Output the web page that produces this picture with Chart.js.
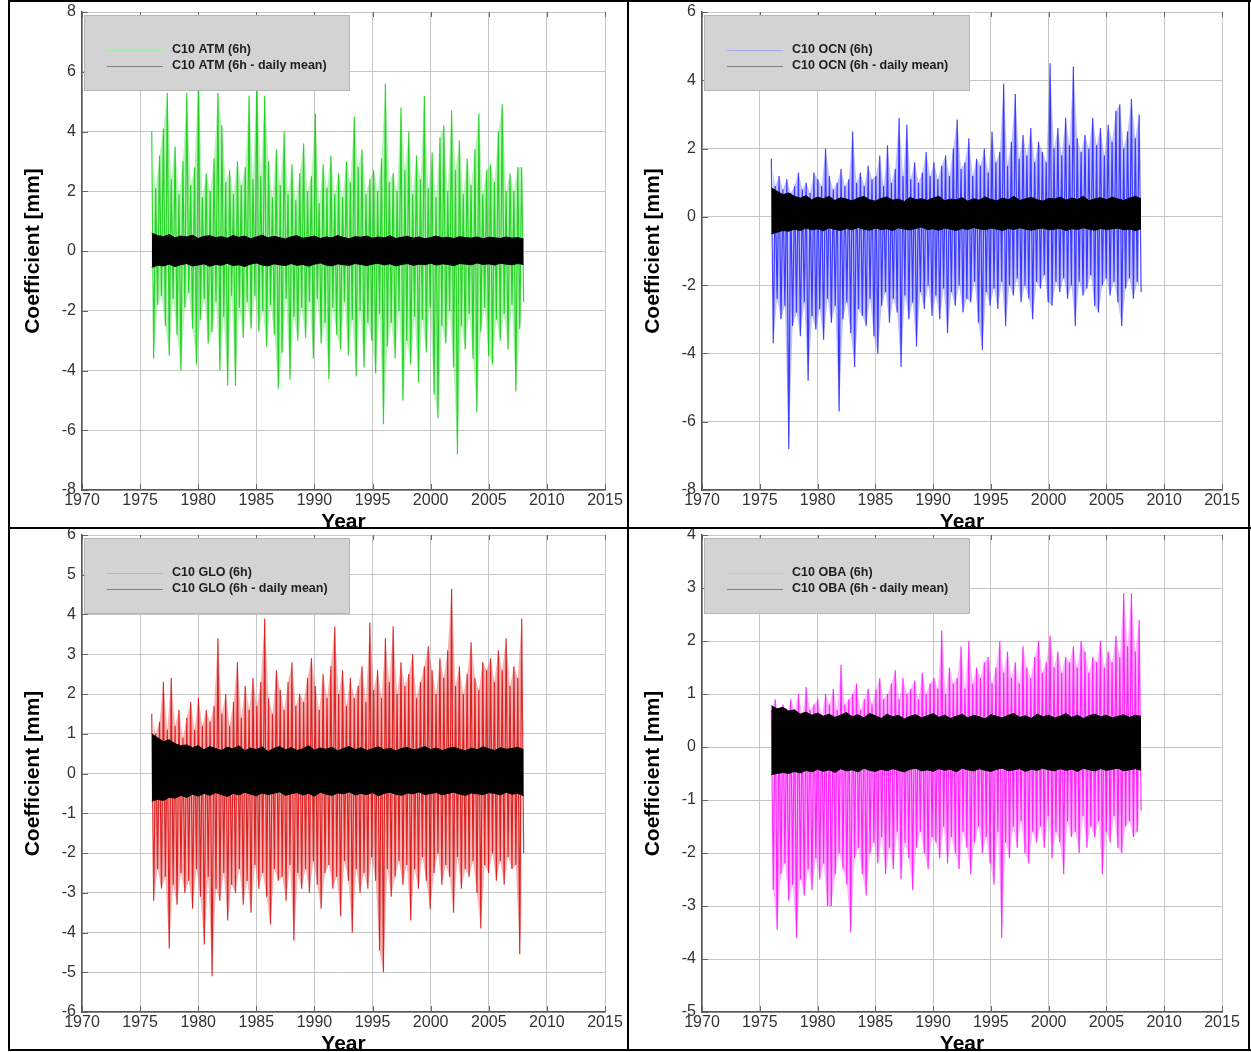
<!DOCTYPE html>
<html>
<head>
<meta charset="utf-8">
<script src="https://cdn.jsdelivr.net/npm/chart.js@4.4.0/dist/chart.umd.min.js"></script>
<style>
body { margin: 0; background: #fff; width: 1251px; height: 1052px; position: relative; overflow: hidden; }
.cell { position: absolute; overflow: hidden; }
.ln { position: absolute; background: #000; z-index: 5; }
</style>
</head>
<body>
<div class="cell" style="left:10px;top:2px;width:617px;height:525px"><canvas id="atm"></canvas></div>
<div class="cell" style="left:629px;top:2px;width:619px;height:525px"><canvas id="ocn"></canvas></div>
<div class="cell" style="left:10px;top:520px;width:617px;height:529px"><canvas id="glo"></canvas></div>
<div class="cell" style="left:629px;top:520px;width:619px;height:529px"><canvas id="oba"></canvas></div>

<div class="ln" style="left:8px;top:0;width:1243px;height:2px"></div>
<div class="ln" style="left:8px;top:527px;width:1243px;height:2px"></div>
<div class="ln" style="left:8px;top:1049px;width:1243px;height:2px"></div>
<div class="ln" style="left:8px;top:0;width:2px;height:1051px"></div>
<div class="ln" style="left:627px;top:0;width:2px;height:1051px"></div>
<div class="ln" style="left:1248px;top:0;width:2px;height:1051px"></div>

<script>
// time span of the series (years)
const START = 1976;
const END = 2008;
const X_TICKS = [1970, 1975, 1980, 1985, 1990, 1995, 2000, 2005, 2010, 2015];

// 6h series: local maxima / minima, one pair every third of a year
const ATM_HI = [4.0,2.1,3.2, 4.1,5.3,2.4, 3.5,1.9,3.0, 5.3,2.2,2.8, 6.0,1.8,2.6, 2.0,3.1,5.3, 4.2,2.3,2.7, 1.9,3.0,2.2,
  2.8,5.2,2.4, 6.0,2.5,5.2, 3.0,1.8,3.4, 2.2,4.0,1.9, 2.9,1.7,2.6, 3.6,2.0,2.5, 4.6,1.6,2.9, 2.1,3.2,1.9,
  2.6,1.8,3.0, 2.3,4.5,2.8, 3.4,1.9,2.4, 2.7,2.0,3.1, 5.6,2.3,2.6, 2.0,4.8,2.7, 4.0,1.9,3.2, 2.4,5.2,2.1,
  3.3,1.8,3.8, 4.2,2.0,4.7, 2.7,3.7,1.9, 3.1,2.2,3.4, 4.6,1.9,2.7, 2.9,2.3,4.0, 4.9,2.0,2.6, 2.0,2.8,2.8];
const ATM_LO = [-3.6,-1.8,-1.5, -2.5,-3.5,-1.6, -2.8,-4.0,-1.9, -1.4,-2.6,-3.8, -2.3,-1.6,-3.1, -2.7,-1.7,-4.0, -2.2,-4.5,-1.5, -4.5,-1.9,-2.9,
  -1.7,-2.6,-1.5, -2.7,-2.0,-3.2, -1.8,-2.8,-4.6, -3.4,-1.6,-4.3, -2.2,-3.0,-1.9, -2.9,-1.7,-3.6, -1.6,-3.1,-2.4, -4.3,-1.9,-2.8,
  -3.3,-1.7,-3.5, -2.3,-4.2,-2.0, -3.9,-2.4,-3.0, -4.1,-2.1,-5.8, -3.2,-2.4,-3.6, -2.0,-5.0,-3.0, -3.8,-2.2,-4.4, -2.3,-3.4,-1.9,
  -4.8,-5.6,-2.5, -3.1,-2.0,-3.9, -6.8,-2.5,-3.3, -2.1,-3.6,-5.4, -2.7,-1.9,-3.5, -3.8,-2.3,-3.0, -2.1,-3.3,-1.8, -4.7,-2.6,-1.7];

const OCN_HI = [1.7,0.9,1.2, 0.8,1.1,0.7, 0.9,1.3,0.8, 1.0,0.7,1.3, 1.1,0.9,2.0, 1.2,0.8,1.0, 1.4,0.9,1.1, 2.5,1.0,1.3,
  0.9,1.5,1.1, 1.2,1.8,0.9, 2.1,1.0,1.4, 2.9,1.2,2.7, 1.1,1.6,1.0, 1.3,1.9,1.2, 1.6,1.1,1.5, 1.8,1.2,2.0,
  2.85,1.4,1.6, 2.3,1.2,1.7, 1.5,2.0,1.3, 2.5,1.6,1.9, 3.9,1.5,2.2, 3.6,1.7,2.4, 1.8,2.6,1.6, 2.2,1.9,1.6,
  4.5,2.0,2.6, 1.8,2.9,2.1, 4.4,2.3,1.9, 2.4,2.0,2.9, 2.1,2.6,1.8, 2.7,2.2,3.1, 3.3,2.0,2.5, 3.45,2.3,3.0];
const OCN_LO = [-3.7,-2.4,-3.0, -2.6,-6.8,-3.2, -2.8,-3.5,-2.5, -4.8,-2.9,-3.3, -2.7,-3.6,-2.4, -3.1,-2.6,-5.7, -3.0,-2.5,-3.4, -4.4,-2.7,-2.9,
  -3.2,-2.4,-3.5, -4.0,-2.6,-2.2, -3.1,-2.4,-2.8, -4.4,-2.3,-3.0, -2.5,-3.8,-2.2, -2.7,-2.0,-2.9, -2.3,-3.0,-2.1, -3.4,-2.2,-2.6,
  -2.0,-2.8,-2.4, -2.5,-1.9,-3.1, -3.9,-2.2,-2.6, -2.1,-2.7,-1.9, -3.2,-2.0,-2.3, -1.8,-2.5,-2.0, -2.4,-3.0,-1.9, -2.1,-1.7,-2.5,
  -2.6,-1.9,-2.2, -1.8,-2.4,-2.0, -3.2,-1.9,-2.3, -2.1,-1.7,-2.6, -2.8,-2.0,-1.8, -2.3,-1.9,-2.5, -3.2,-2.1,-1.8, -2.4,-1.9,-2.2];

const GLO_HI = [1.5,1.0,1.3, 2.3,1.1,2.4, 1.2,1.6,0.9, 1.4,1.8,1.1, 1.9,1.2,1.6, 1.3,1.7,3.4, 1.5,2.0,1.2, 1.8,2.8,1.4,
  2.2,1.6,2.4, 1.7,2.3,3.9, 1.9,1.5,2.6, 2.1,1.6,2.3, 2.8,1.7,2.0, 1.8,2.4,2.9, 2.2,1.6,2.5, 1.9,2.7,3.7,
  2.0,2.6,1.7, 2.4,1.9,2.2, 2.7,1.8,3.8, 2.1,2.6,1.9, 3.4,2.3,3.7, 2.0,2.8,2.2, 2.5,3.0,1.9, 2.3,2.7,3.2,
  2.6,2.0,2.9, 2.4,3.1,4.65, 2.2,2.7,2.0, 2.5,3.3,2.4, 2.1,2.8,2.6, 2.9,2.3,3.1, 2.6,3.4,2.2, 2.7,2.4,3.9];
const GLO_LO = [-3.2,-2.4,-2.9, -2.6,-4.4,-2.8, -3.3,-2.5,-3.0, -2.7,-3.4,-2.4, -3.1,-4.3,-2.6, -5.1,-2.9,-3.2, -2.5,-3.7,-2.8, -3.0,-2.4,-3.3,
  -2.7,-3.5,-2.3, -2.9,-2.5,-3.1, -3.8,-2.4,-2.7, -2.6,-3.2,-2.3, -4.2,-2.5,-2.9, -2.4,-3.0,-2.2, -2.8,-3.4,-2.5, -2.3,-2.9,-2.6,
  -3.6,-2.2,-2.7, -4.0,-2.4,-3.0, -2.5,-2.9,-2.1, -2.7,-4.45,-5.0, -2.4,-3.1,-2.6, -2.2,-2.8,-2.3, -3.7,-2.4,-2.9, -2.1,-2.7,-3.4,
  -2.5,-2.0,-2.8, -2.3,-2.6,-3.5, -2.1,-2.9,-2.4, -2.6,-2.2,-3.0, -3.9,-2.3,-2.5, -2.0,-2.7,-2.2, -2.8,-2.1,-2.4, -2.3,-4.55,-2.0];

const OBA_HI = [0.7,0.9,0.6, 0.8,0.6,0.9, 0.7,1.0,0.6, 1.13,0.7,0.8, 0.9,0.6,1.0, 0.8,1.1,0.7, 1.55,0.8,0.9, 1.0,1.2,0.7,
  0.9,1.1,0.8, 1.08,1.3,0.9, 1.0,1.2,1.45, 0.9,1.3,1.0, 1.1,1.25,0.9, 1.4,1.0,1.2, 1.3,1.1,2.2, 1.0,1.5,1.2,
  1.3,1.9,1.1, 2.0,1.2,1.5, 1.3,1.6,1.7, 1.2,1.5,2.0, 1.4,1.8,1.3, 1.6,1.2,1.9, 1.5,1.3,1.7, 2.0,1.4,1.6,
  2.1,1.5,1.8, 1.4,1.7,1.6, 1.9,1.5,2.0, 1.8,1.4,1.7, 1.6,2.0,1.5, 1.8,1.6,2.1, 1.7,2.9,1.9, 2.9,1.8,2.4];
const OBA_LO = [-2.7,-3.45,-2.4, -2.2,-2.9,-2.6, -3.6,-2.5,-2.8, -2.3,-2.7,-2.1, -2.5,-2.2,-3.0, -3.0,-2.4,-2.0, -2.3,-2.6,-3.5, -2.1,-1.9,-2.4,
  -2.8,-2.0,-1.8, -2.2,-1.7,-2.4, -1.9,-2.3,-1.6, -2.5,-1.8,-2.1, -2.7,-1.9,-1.6, -2.0,-2.3,-1.7, -1.8,-2.1,-1.5, -2.2,-1.7,-2.0,
  -2.3,-1.6,-1.9, -2.4,-1.8,-1.5, -2.0,-1.7,-2.2, -2.6,-1.6,-3.6, -1.8,-2.1,-1.5, -1.9,-1.4,-2.0, -2.2,-1.6,-1.8, -1.5,-1.9,-1.3,
  -2.1,-1.6,-1.8, -2.4,-1.4,-1.7, -1.6,-2.0,-1.3, -1.9,-1.5,-1.7, -1.4,-2.4,-1.6, -1.8,-1.3,-1.9, -2.0,-1.5,-1.4, -1.7,-1.6,-1.2];

// daily mean series: upper / lower edge, one value every half year
const ATM_MEAN_HI = [0.6,0.52,0.48,0.55,0.44,0.5,0.47,0.53,0.42,0.49,0.51,0.45,0.48,0.43,0.52,0.46,0.5,0.41,0.47,0.53,
  0.44,0.49,0.45,0.4,0.48,0.51,0.43,0.46,0.5,0.42,0.47,0.44,0.52,0.45,0.41,0.48,0.46,0.5,0.43,0.47,
  0.44,0.51,0.42,0.46,0.49,0.43,0.47,0.41,0.45,0.5,0.44,0.46,0.42,0.48,0.45,0.43,0.47,0.41,0.46,0.44,0.42,0.47,0.43,0.45,0.4];
const ATM_MEAN_LO = [-0.55,-0.48,-0.5,-0.44,-0.52,-0.46,-0.42,-0.5,-0.47,-0.43,-0.51,-0.45,-0.48,-0.41,-0.49,-0.46,-0.52,-0.44,-0.4,-0.47,
  -0.5,-0.43,-0.46,-0.49,-0.42,-0.48,-0.45,-0.51,-0.44,-0.4,-0.47,-0.5,-0.43,-0.46,-0.48,-0.42,-0.45,-0.49,-0.44,-0.41,
  -0.47,-0.43,-0.5,-0.45,-0.42,-0.48,-0.44,-0.46,-0.41,-0.47,-0.43,-0.45,-0.49,-0.42,-0.44,-0.46,-0.4,-0.45,-0.43,-0.47,-0.41,-0.44,-0.46,-0.42,-0.45];

const OCN_MEAN_HI = [0.85,0.75,0.65,0.7,0.6,0.55,0.62,0.5,0.58,0.53,0.6,0.48,0.56,0.52,0.47,0.55,0.6,0.5,0.46,0.54,
  0.58,0.49,0.52,0.45,0.57,0.5,0.53,0.48,0.55,0.6,0.47,0.52,0.5,0.56,0.46,0.53,0.49,0.58,0.51,0.47,
  0.55,0.5,0.6,0.48,0.53,0.57,0.5,0.46,0.54,0.52,0.58,0.49,0.55,0.51,0.6,0.47,0.53,0.56,0.5,0.58,0.52,0.48,0.55,0.6,0.53];
const OCN_MEAN_LO = [-0.5,-0.45,-0.4,-0.42,-0.36,-0.4,-0.33,-0.38,-0.35,-0.41,-0.32,-0.37,-0.4,-0.34,-0.38,-0.31,-0.36,-0.39,-0.33,-0.37,
  -0.35,-0.4,-0.32,-0.36,-0.38,-0.34,-0.3,-0.37,-0.35,-0.39,-0.33,-0.36,-0.4,-0.34,-0.37,-0.31,-0.35,-0.38,-0.33,-0.36,
  -0.4,-0.34,-0.37,-0.32,-0.36,-0.39,-0.35,-0.33,-0.38,-0.36,-0.34,-0.4,-0.35,-0.37,-0.32,-0.36,-0.39,-0.34,-0.37,-0.35,-0.33,-0.38,-0.36,-0.4,-0.35];

const GLO_MEAN_HI = [1.0,0.9,0.8,0.85,0.75,0.7,0.72,0.65,0.7,0.6,0.68,0.63,0.58,0.66,0.62,0.7,0.57,0.64,0.6,0.67,
  0.55,0.63,0.68,0.6,0.65,0.58,0.62,0.7,0.59,0.64,0.61,0.66,0.57,0.63,0.68,0.6,0.65,0.58,0.62,0.67,
  0.6,0.64,0.57,0.63,0.66,0.59,0.62,0.68,0.6,0.64,0.58,0.63,0.66,0.61,0.57,0.64,0.6,0.67,0.62,0.58,0.65,0.61,0.63,0.66,0.6];
const GLO_MEAN_LO = [-0.7,-0.65,-0.68,-0.6,-0.62,-0.55,-0.6,-0.52,-0.57,-0.5,-0.55,-0.48,-0.53,-0.58,-0.5,-0.54,-0.47,-0.52,-0.56,-0.49,
  -0.53,-0.5,-0.46,-0.55,-0.51,-0.48,-0.54,-0.5,-0.57,-0.47,-0.52,-0.55,-0.49,-0.51,-0.46,-0.54,-0.5,-0.53,-0.48,-0.56,
  -0.5,-0.47,-0.52,-0.55,-0.49,-0.51,-0.46,-0.53,-0.5,-0.48,-0.54,-0.5,-0.47,-0.52,-0.55,-0.49,-0.51,-0.53,-0.48,-0.5,-0.54,-0.47,-0.52,-0.5,-0.56];

const OBA_MEAN_HI = [0.78,0.72,0.75,0.68,0.7,0.62,0.66,0.6,0.64,0.58,0.62,0.56,0.6,0.65,0.57,0.61,0.55,0.63,0.59,0.54,
  0.62,0.57,0.6,0.53,0.58,0.61,0.55,0.59,0.63,0.56,0.6,0.54,0.58,0.62,0.55,0.6,0.57,0.53,0.61,0.58,
  0.55,0.6,0.63,0.56,0.59,0.54,0.62,0.57,0.6,0.55,0.58,0.63,0.56,0.6,0.54,0.59,0.62,0.57,0.6,0.55,0.58,0.61,0.56,0.6,0.58];
const OBA_MEAN_LO = [-0.52,-0.5,-0.48,-0.5,-0.46,-0.49,-0.44,-0.47,-0.42,-0.46,-0.43,-0.48,-0.41,-0.45,-0.43,-0.47,-0.4,-0.44,-0.46,-0.42,
  -0.45,-0.41,-0.44,-0.47,-0.42,-0.4,-0.45,-0.43,-0.46,-0.41,-0.44,-0.42,-0.47,-0.4,-0.43,-0.45,-0.41,-0.44,-0.46,-0.42,
  -0.4,-0.45,-0.43,-0.41,-0.46,-0.42,-0.44,-0.4,-0.43,-0.45,-0.41,-0.44,-0.42,-0.46,-0.4,-0.43,-0.45,-0.41,-0.44,-0.42,-0.4,-0.45,-0.43,-0.41,-0.44];

const FONT = '"Liberation Sans", Arial, Helvetica, sans-serif';

// x position of the k-th of n points spread evenly over START..END
const at = (k, n) => START + (END - START) * k / (n - 1);

// alternate max / min into one line
function zigzag(hi, lo) {
  const n = hi.length * 2;
  const pts = [];
  hi.forEach((v, i) => {
    pts.push({ x: at(2 * i, n), y: v });
    pts.push({ x: at(2 * i + 1, n), y: lo[i] });
  });
  return pts;
}

// just the maxima (or minima), at the same x positions as in the zigzag
function envelope(vals, shift) {
  const n = vals.length * 2;
  return vals.map((v, i) => ({ x: at(2 * i + shift, n), y: v }));
}

function edge(vals) {
  return vals.map((v, i) => ({ x: at(i, vals.length), y: v }));
}

// legend box, inner ticks and axis titles
const decor = {
  id: 'decor',
  afterDraw(chart) {
    const { ctx, chartArea: a } = chart;
    const xs = chart.scales.x, ys = chart.scales.y;
    ctx.save();
    ctx.strokeStyle = '#666';
    ctx.lineWidth = 1;
    ctx.beginPath();
    X_TICKS.forEach(t => {
      const px = Math.round(xs.getPixelForValue(t)) + 0.5;
      ctx.moveTo(px, a.bottom); ctx.lineTo(px, a.bottom - 6);
      ctx.moveTo(px, a.top); ctx.lineTo(px, a.top + 5);
    });
    ys.ticks.forEach(t => {
      const py = Math.round(ys.getPixelForValue(t.value)) + 0.5;
      ctx.moveTo(a.left, py); ctx.lineTo(a.left + 6, py);
    });
    ctx.stroke();

    // legend
    const bx = a.left + 2, by = a.top + 3;
    ctx.fillStyle = '#d3d3d3';
    ctx.fillRect(bx, by, 266, 76);
    ctx.strokeStyle = '#b5b5b5';
    ctx.strokeRect(bx + 0.5, by + 0.5, 265, 75);
    ctx.font = 'bold 12.5px ' + FONT;
    ctx.textBaseline = 'middle';
    chart.data.datasets.forEach(ds => {
      if (!ds.legendRow) return;
      const ly = a.top + 38 + (ds.legendRow - 1) * 16;
      ctx.strokeStyle = ds.legendColor;
      ctx.beginPath();
      ctx.moveTo(a.left + 25, ly + 0.5);
      ctx.lineTo(a.left + 81, ly + 0.5);
      ctx.stroke();
      ctx.fillStyle = '#1e1e1e';
      ctx.fillText(ds.label, a.left + 90, ly);
    });

    // axis titles
    ctx.fillStyle = '#000';
    ctx.font = 'bold 21px ' + FONT;
    ctx.textAlign = 'center';
    ctx.fillText('Year', (a.left + a.right) / 2, a.bottom + 32);
    ctx.translate(a.left - 49, (a.top + a.bottom) / 2);
    ctx.rotate(-Math.PI / 2);
    ctx.fillText('Coefficient [mm]', 0, 0);
    ctx.restore();
  }
};

const PANELS = [
  { id: 'atm', name: 'ATM', hi: ATM_HI, lo: ATM_LO, mHi: ATM_MEAN_HI, mLo: ATM_MEAN_LO,
    color: 'rgba(0,205,0,0.8)', haze: 'rgba(70,220,70,0.38)', legendColor: '#a6e8a6', yMin: -8, yMax: 8, yStep: 2, top: 10, right: 22, yW: 72 },
  { id: 'ocn', name: 'OCN', hi: OCN_HI, lo: OCN_LO, mHi: OCN_MEAN_HI, mLo: OCN_MEAN_LO,
    color: 'rgba(25,25,255,0.8)', haze: 'rgba(80,80,255,0.36)', legendColor: '#a8a8f0', yMin: -8, yMax: 6, yStep: 2, top: 10, right: 26, yW: 73 },
  { id: 'glo', name: 'GLO', hi: GLO_HI, lo: GLO_LO, mHi: GLO_MEAN_HI, mLo: GLO_MEAN_LO,
    color: 'rgba(215,0,0,0.8)', haze: 'rgba(230,50,50,0.36)', legendColor: '#eaa0a0', yMin: -6, yMax: 6, yStep: 1, top: 15, right: 22, yW: 72 },
  { id: 'oba', name: 'OBA', hi: OBA_HI, lo: OBA_LO, mHi: OBA_MEAN_HI, mLo: OBA_MEAN_LO,
    color: 'rgba(255,0,255,0.8)', haze: 'rgba(255,70,255,0.4)', legendColor: '#eeaaee', yMin: -5, yMax: 4, yStep: 1, top: 15, right: 26, yW: 73 }
];

PANELS.forEach(p => {
  new Chart(document.getElementById(p.id), {
    type: 'line',
    data: {
      datasets: [
        {
          label: 'C10 ' + p.name + ' (6h)',
          data: zigzag(p.hi, p.lo),
          borderColor: p.color,
          borderWidth: 1.2,
          pointRadius: 0,
          fill: false,
          order: 1,
          legendRow: 1,
          legendColor: p.legendColor
        },
        {
          label: 'C10 ' + p.name + ' (6h - daily mean)',
          data: edge(p.mHi),
          borderColor: '#000',
          backgroundColor: '#000',
          borderWidth: 1,
          pointRadius: 0,
          fill: '+1',
          order: 0,
          legendRow: 2,
          legendColor: '#808080'
        },
        {
          label: 'mean lower edge',
          data: edge(p.mLo),
          borderColor: '#000',
          borderWidth: 1,
          pointRadius: 0,
          fill: false,
          order: 0
        },
        {
          label: '6h maxima',
          data: envelope(p.hi, 0),
          borderWidth: 0,
          pointRadius: 0,
          backgroundColor: p.haze,
          fill: '+1',
          order: 2
        },
        {
          label: '6h minima',
          data: envelope(p.lo, 1),
          borderWidth: 0,
          pointRadius: 0,
          fill: false,
          order: 2
        }
      ]
    },
    options: {
      responsive: true,
      maintainAspectRatio: false,
      animation: false,
      events: [],
      layout: { padding: { top: p.top, right: p.right, left: 0, bottom: 0 } },
      plugins: { legend: { display: false }, tooltip: { enabled: false } },
      scales: {
        x: {
          type: 'linear',
          min: 1970,
          max: 2015,
          afterFit: s => { s.height = 37; s.paddingLeft = 0; s.paddingRight = 0; },
          afterBuildTicks: s => { s.ticks = X_TICKS.map(v => ({ value: v })); },
          ticks: { padding: 1, color: '#333', font: { family: FONT, size: 16 }, callback: v => String(v) },
          grid: { color: '#c6c6c6', drawTicks: false },
          border: { color: '#555', width: 1.5 }
        },
        y: {
          min: p.yMin,
          max: p.yMax,
          afterFit: s => { s.width = p.yW; s.paddingTop = 0; s.paddingBottom = 0; },
          ticks: { stepSize: p.yStep, padding: 6, color: '#333', font: { family: FONT, size: 16 } },
          grid: { color: '#c6c6c6', drawTicks: false },
          border: { color: '#555', width: 1.5 }
        }
      }
    },
    plugins: [decor]
  });
});
</script>
</body>
</html>
